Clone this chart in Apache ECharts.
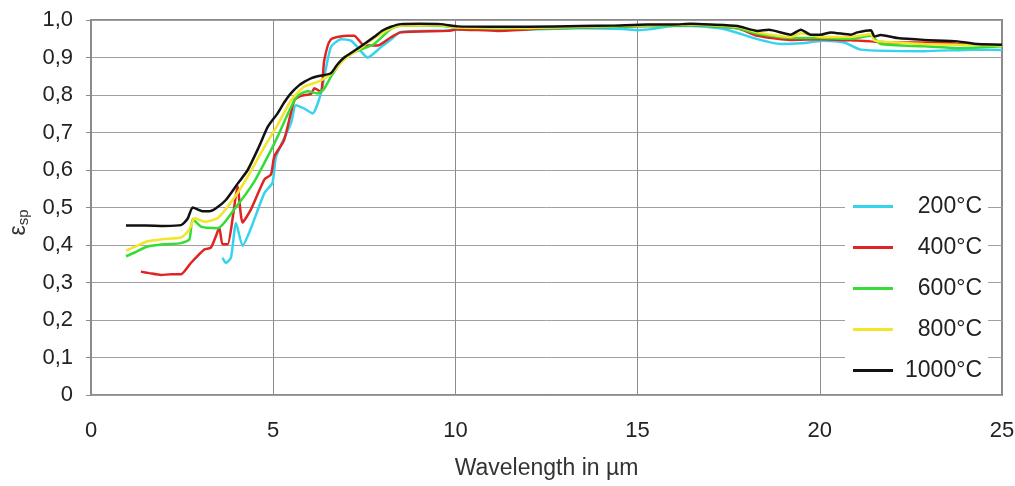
<!DOCTYPE html>
<html><head><meta charset="utf-8">
<script src="https://cdn.jsdelivr.net/npm/echarts@6/dist/echarts.min.js"></script>
<style>html,body{margin:0;padding:0;background:#fff}#c{width:1015px;height:486px}</style>
</head><body><div id="c"></div>
<script>
const seriesNames = ['200°C','400°C','600°C','800°C','1000°C'];
const seriesColors = ['#35D3EC','#E02424','#35DC35','#F2E52A','#111111'];
const xTicks = [0,5,10,15,20,25];
const yTicks = [0,0.1,0.2,0.3,0.4,0.5,0.6,0.7,0.8,0.9,1.0];

const t200 = [[3.61,0.366],[3.7,0.352],[3.84,0.366],[3.98,0.459],[4.16,0.398],[4.39,0.445],[4.76,0.539],[4.98,0.566],[5.08,0.636],[5.49,0.725],[5.62,0.773],[5.85,0.764],[6.08,0.751],[6.31,0.805],[6.58,0.927],[6.86,0.949],[7.13,0.945],[7.32,0.927],[7.59,0.90],[7.95,0.927],[8.23,0.948],[8.5,0.968],[9.79,0.972],[10.06,0.975],[12,0.975],[13.44,0.978],[14.6,0.976],[15.0,0.973],[15.3,0.975],[16.0,0.984],[16.46,0.984],[17.37,0.976],[18.29,0.949],[18.93,0.936],[19.5,0.938],[20.1,0.945],[20.67,0.94],[21.12,0.921],[22.86,0.917],[24.24,0.921],[25,0.92]];
const t400 = [[1.37,0.329],[1.6,0.325],[1.92,0.32],[2.2,0.322],[2.47,0.322],[2.74,0.352],[3.11,0.388],[3.29,0.393],[3.43,0.424],[3.52,0.447],[3.61,0.402],[3.75,0.402],[3.9,0.48],[4.02,0.556],[4.16,0.46],[4.39,0.495],[4.76,0.575],[4.94,0.588],[5.03,0.636],[5.3,0.68],[5.58,0.786],[5.76,0.798],[6.04,0.803],[6.13,0.818],[6.31,0.808],[6.4,0.892],[6.58,0.948],[7.04,0.958],[7.22,0.958],[7.5,0.932],[7.86,0.932],[8.23,0.954],[8.5,0.967],[9.79,0.971],[10.06,0.975],[11.16,0.971],[12.53,0.978],[13.44,0.98],[15.27,0.984],[16.46,0.986],[17.74,0.978],[18.29,0.958],[19.2,0.947],[20.1,0.949],[21.03,0.945],[21.4,0.943],[21.95,0.94],[23.3,0.94],[23.78,0.936],[25,0.932]];
const t600 = [[0.96,0.37],[1.2,0.38],[1.55,0.396],[2.0,0.402],[2.47,0.405],[2.7,0.415],[2.79,0.469],[3.02,0.449],[3.48,0.445],[3.93,0.495],[4.48,0.569],[4.94,0.653],[5.12,0.689],[5.49,0.768],[5.67,0.798],[5.94,0.81],[6.22,0.804],[6.4,0.817],[6.58,0.848],[6.95,0.90],[7.32,0.918],[7.77,0.936],[8.23,0.976],[8.5,0.985],[9.6,0.985],[10.06,0.979],[12,0.978],[13.44,0.98],[15.27,0.984],[16.46,0.986],[17.74,0.978],[18.29,0.963],[19.2,0.952],[20.03,0.952],[20.85,0.95],[21.4,0.958],[21.67,0.936],[22.86,0.93],[23.78,0.925],[25,0.93]];
const t800 = [[0.96,0.385],[1.2,0.395],[1.55,0.41],[2.0,0.416],[2.47,0.42],[2.65,0.435],[2.74,0.45],[2.84,0.472],[2.95,0.468],[3.11,0.462],[3.48,0.472],[3.93,0.526],[4.3,0.582],[4.76,0.662],[5.12,0.72],[5.49,0.786],[5.85,0.822],[6.22,0.835],[6.58,0.856],[6.95,0.895],[7.32,0.92],[7.77,0.952],[8.23,0.978],[8.5,0.985],[9.6,0.986],[10.06,0.98],[12,0.979],[13.44,0.982],[15.27,0.986],[16.46,0.988],[17.74,0.982],[18.29,0.967],[19.2,0.955],[19.48,0.965],[20.03,0.955],[20.85,0.955],[21.4,0.962],[21.5,0.945],[22.13,0.94],[22.86,0.936],[23.78,0.934],[25,0.932]];
const t1000 = [[0.96,0.452],[1.5,0.452],[2.0,0.451],[2.47,0.453],[2.65,0.47],[2.79,0.500],[2.95,0.494],[3.06,0.490],[3.25,0.490],[3.43,0.498],[3.7,0.52],[4.02,0.563],[4.3,0.60],[4.6,0.66],[4.85,0.715],[5.12,0.751],[5.3,0.78],[5.49,0.805],[5.7,0.825],[5.85,0.835],[6.05,0.845],[6.22,0.850],[6.58,0.858],[6.75,0.88],[6.95,0.90],[7.32,0.924],[7.77,0.955],[8.0,0.972],[8.23,0.982],[8.5,0.989],[9.0,0.990],[9.6,0.989],[10.06,0.983],[11,0.982],[12,0.982],[13.44,0.984],[14.3,0.985],[15.27,0.988],[16.0,0.988],[16.46,0.99],[17.0,0.988],[17.74,0.984],[18.29,0.971],[18.6,0.974],[19.2,0.961],[19.48,0.974],[19.75,0.961],[20.03,0.961],[20.3,0.967],[20.85,0.961],[21.03,0.967],[21.4,0.973],[21.5,0.956],[21.67,0.96],[22.13,0.952],[22.86,0.947],[23.78,0.943],[24.33,0.936],[25,0.934]];
const allData = [t200,t400,t600,t800,t1000];

const chart = echarts.init(document.getElementById('c'), null, {renderer:'canvas'});
const FONT = 'Liberation Sans, Arial, sans-serif';
chart.setOption({
  animation:false,
  backgroundColor:'#fff',
  grid:{left:91,top:20,right:13,bottom:91,show:true,borderColor:'#8a8a8a',borderWidth:2,backgroundColor:'transparent',
    containLabel:false,outerBoundsMode:'none'},
  xAxis:{type:'value',min:xTicks[0],max:xTicks[xTicks.length-1],interval:5,
    name:'Wavelength in µm',nameLocation:'middle',nameGap:62,
    nameTextStyle:{fontFamily:FONT,fontSize:23,color:'#333'},
    axisLine:{show:false},axisTick:{show:false},
    axisLabel:{fontFamily:FONT,fontSize:22,color:'#222',margin:25},
    splitLine:{show:true,lineStyle:{color:'#8c8c8c',width:1}}},
  yAxis:{type:'value',min:yTicks[0],max:yTicks[yTicks.length-1],interval:0.1,
    name:'{e|ε}{s|sp}',nameLocation:'middle',nameGap:60,nameRotate:90,
    nameTextStyle:{rich:{e:{fontFamily:FONT,fontSize:23,color:'#333'},s:{fontFamily:FONT,fontSize:15,color:'#333',padding:[9,30,0,0]}}},
    axisLine:{show:false},axisTick:{show:true,length:5,lineStyle:{color:'#8a8a8a'}},
    axisLabel:{fontFamily:FONT,fontSize:22,color:'#222',margin:18,
      formatter:v=>v===0?'0':v.toFixed(1).replace('.',',')},
    splitLine:{show:true,lineStyle:{color:'#a0a0a0',width:1}}},
  legend:{orient:'vertical',right:27,top:187,itemGap:18,itemWidth:40,itemHeight:3,icon:'rect',
    backgroundColor:'#fff',padding:[8,6,8,8],
    data:seriesNames,
    formatter:n=>'{a|'+n+'}',
    textStyle:{rich:{a:{fontFamily:FONT,fontSize:23,color:'#222',width:84,align:'right',height:23}}}},
  series:seriesNames.map((n,i)=>({name:n,type:'line',data:allData[i],showSymbol:false,symbol:'none',
    smooth:0.2,lineStyle:{color:seriesColors[i],width:2.5},itemStyle:{color:seriesColors[i]}}))
});
</script></body></html>
